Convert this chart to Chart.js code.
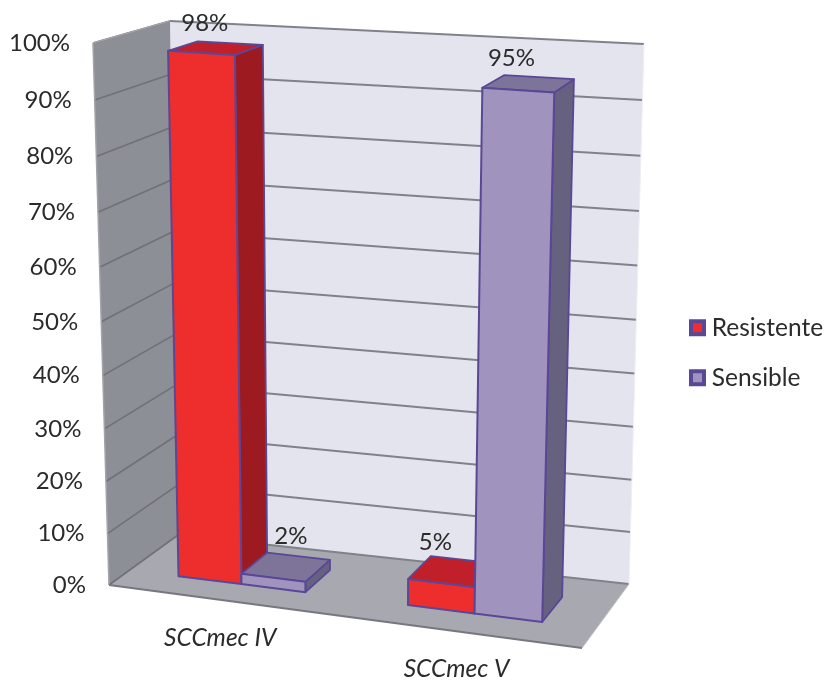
<!DOCTYPE html>
<html><head><meta charset="utf-8">
<style>html,body{margin:0;padding:0;background:#fff}canvas{display:block;filter:blur(0.45px)}</style>
<script src="https://cdn.jsdelivr.net/npm/chart.js@4/dist/chart.umd.js"></script>
</head><body><canvas id="c" width="826" height="681"></canvas>
<script>
const categories = ['SCCmec IV', 'SCCmec V'];
const resistente = [98, 5];
const sensible = [2, 95];
const seriesNames = ['Resistente', 'Sensible'];
const yTickStep = 10;

// Room corners on screen: the view, not the data
const frontPlane = {bl:[109,585], br:[582,648], tr:[599,76], tl:[93,43]};
const backPlane  = {bl:[178,535], br:[629,584], tr:[644,44], tl:[170,21]};
const barDepth = [0.3, 0.7];
const vWarp = -0.008;
const FONT = 'Lato, "Open Sans", sans-serif';
const TEXT = '#2b2b2b';
const labelNudge = [[-11,-25,-17,-29],[5,-31,-17,-25]];

const lerp=(a,b,t)=>a+(b-a)*t;
function homog(q){
  const [x0,y0]=q[0],[x1,y1]=q[1],[x2,y2]=q[2],[x3,y3]=q[3];
  const dx1=x1-x2,dx2=x3-x2,sx=x0-x1+x2-x3,dy1=y1-y2,dy2=y3-y2,sy=y0-y1+y2-y3;
  const det=dx1*dy2-dx2*dy1;
  const g=(sx*dy2-dx2*sy)/det,h=(dx1*sy-sx*dy1)/det;
  return {a:x1-x0+g*x1,b:x3-x0+h*x3,c:x0,d:y1-y0+g*y1,e:y3-y0+h*y3,f:y0,g,h};
}
function P(u,v,w){
  const k=['bl','br','tr','tl'].map(n=>[lerp(frontPlane[n][0],backPlane[n][0],w),lerp(frontPlane[n][1],backPlane[n][1],w)]);
  const H=homog(k);
  const vv=v-vWarp*v*(1-v);
  const d=H.g*u+H.h*vv+1;
  return [(H.a*u+H.b*vv+H.c)/d,(H.d*u+H.e*vv+H.f)/d];
}
function poly(ctx,pts,fill,stroke,lw){
  ctx.beginPath();pts.forEach((p,i)=>i?ctx.lineTo(p[0],p[1]):ctx.moveTo(p[0],p[1]));ctx.closePath();
  if(fill){ctx.fillStyle=fill;ctx.fill();}
  if(stroke){ctx.strokeStyle=stroke;ctx.lineWidth=lw;ctx.lineJoin='round';ctx.stroke();}
}
function line(ctx,pts,color,lw){
  ctx.beginPath();pts.forEach((p,i)=>i?ctx.lineTo(p[0],p[1]):ctx.moveTo(p[0],p[1]));
  ctx.strokeStyle=color;ctx.lineWidth=lw;ctx.stroke();
}
const room3d={
  id:'room3d',
  afterLayout(chart){
    const L=chart.legend;const w=L.right-L.left,h=L.bottom-L.top;
    L.left=670;L.right=670+w;L.top=290;L.bottom=290+h;
  },
  beforeDatasetsDraw(chart){
    const ctx=chart.ctx,ca=chart.chartArea,ys=chart.scales.y;
    const V=val=>(ca.bottom-ys.getPixelForValue(val))/(ca.bottom-ca.top);
    const U=px=>(px-ca.left)/(ca.right-ca.left);
    ctx.save();
    poly(ctx,[P(0,0,1),P(1,0,1),P(1,1,1),P(0,1,1)],'#E4E4EE');
    poly(ctx,[P(0,0,0),P(0,0,1),P(0,1,1),P(0,1,0)],'#8D8F96');
    poly(ctx,[P(0,0,0),P(1,0,0),P(1,0,1),P(0,0,1)],'#A8A8B0');
    ys.ticks.forEach(t=>{
      const v=V(t.value);
      line(ctx,[P(0,v,0),P(0,v,1)],'#6f7177',1.6);
      line(ctx,[P(0,v,1),P(1,v,1)],'#808289',2);
    });
    line(ctx,[P(0,0,0),P(0,1,0)],'#a2a4a9',1.5);
    line(ctx,[P(0,1,0),P(0,1,1)],'#a2a4a9',1.5);
    line(ctx,[P(1,0,1),P(1,1,1)],'#eeeef3',1);
    line(ctx,[P(0,0,0),P(1,0,0)],'#77777f',2);
    line(ctx,[P(1,0,0),P(1,0,1)],'#bdbdc3',1);
    chart.data.datasets.forEach((ds,di)=>{
      chart.getDatasetMeta(di).data.forEach((el,i)=>{
        const u0=U(el.x-el.width/2),u1=U(el.x+el.width/2),v=V(ds.data[i]);
        const [w0,w1]=barDepth;
        poly(ctx,[P(u1,0,w0),P(u1,0,w1),P(u1,v,w1),P(u1,v,w0)],ds.sideColor,ds.borderColor,1.8);
        poly(ctx,[P(u0,v,w0),P(u1,v,w0),P(u1,v,w1),P(u0,v,w1)],ds.topColor,ds.borderColor,1.8);
        poly(ctx,[P(u0,0,w0),P(u1,0,w0),P(u1,v,w0),P(u0,v,w0)],ds.backgroundColor,ds.borderColor,2);
      });
    });
    ctx.restore();
    return false;
  },
  afterDraw(chart){
    const ctx=chart.ctx,ca=chart.chartArea,ys=chart.scales.y;
    const V=val=>(ca.bottom-ys.getPixelForValue(val))/(ca.bottom-ca.top);
    const U=px=>(px-ca.left)/(ca.right-ca.left);
    ctx.save();
    ctx.fillStyle=TEXT;ctx.textBaseline='middle';
    ctx.font='24px '+FONT;ctx.textAlign='right';
    ys.ticks.forEach(t=>{
      const p=P(0,V(t.value),0);
      ctx.fillText(t.label,p[0]-23,p[1]);
    });
    ctx.textAlign='center';
    chart.data.datasets.forEach((ds,di)=>{
      chart.getDatasetMeta(di).data.forEach((el,i)=>{
        const val=ds.data[i];
        const c=P(U(el.x),V(val),(barDepth[0]+barDepth[1])/2);
        const n=labelNudge[di].slice(i*2,i*2+2);
        ctx.fillText(val+'%',c[0]+n[0],c[1]+n[1]);
      });
    });
    ctx.font='italic 24.5px '+FONT;
    categories.forEach((name,i)=>{
      const p=P(U(chart.scales.x.getPixelForValue(i)),0,0);
      ctx.fillText(name,p[0]-2,p[1]+38);
    });
    ctx.restore();
  }
};
new Chart(document.getElementById('c'),{
  type:'bar',
  data:{labels:categories,datasets:[
    {label:seriesNames[0],data:resistente,backgroundColor:'#EE2E2C',sideColor:'#9D1B20',topColor:'#C1202A',borderColor:'#5A4796',borderWidth:4},
    {label:seriesNames[1],data:sensible,backgroundColor:'#A094BF',sideColor:'#676180',topColor:'#7E7399',borderColor:'#5A4796',borderWidth:4}
  ]},
  options:{
    responsive:false,animation:false,devicePixelRatio:1,
    layout:{padding:{left:90,top:44,bottom:98,right:10}},
    datasets:{bar:{categoryPercentage:0.56,barPercentage:1}},
    scales:{
      x:{display:false},
      y:{min:0,max:100,display:true,grid:{display:false},border:{display:false},
         ticks:{stepSize:yTickStep,display:false,callback:v=>v+'%'}}
    },
    plugins:{
      tooltip:{enabled:false},
      legend:{position:'right',align:'start',
        labels:{color:TEXT,font:{family:FONT,size:24.5},usePointStyle:true,pointStyle:'rect',boxWidth:4,boxHeight:13,padding:25.5}}
    }
  },
  plugins:[room3d]
});
</script></body></html>
